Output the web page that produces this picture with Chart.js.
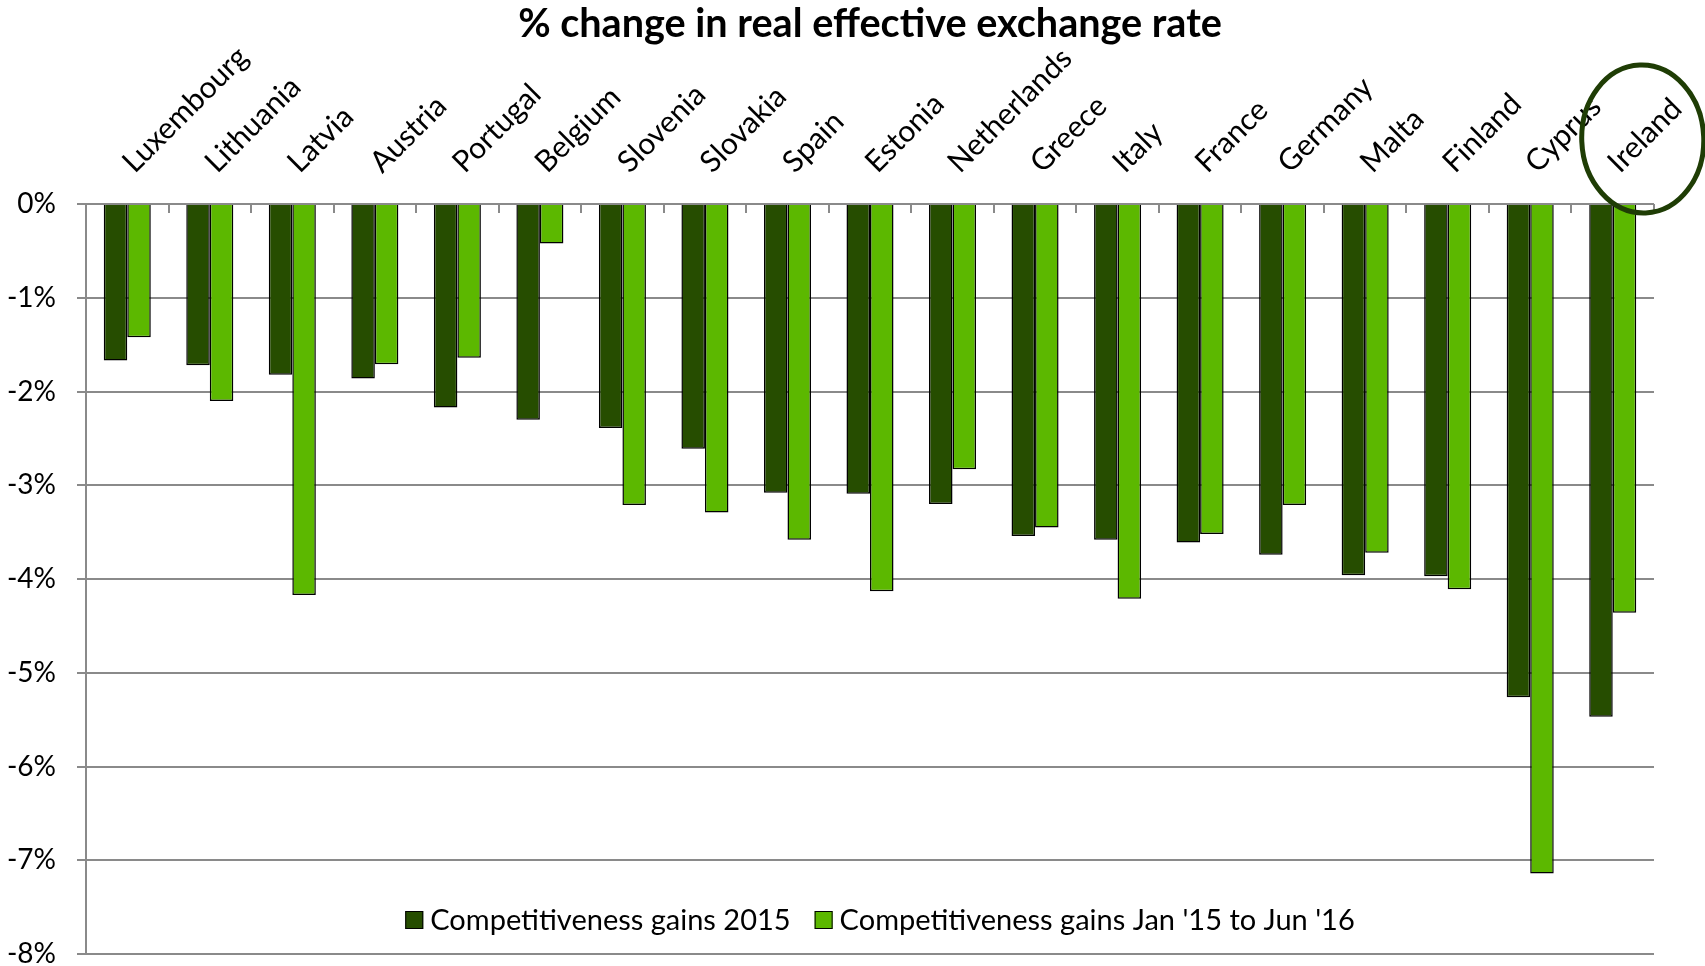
<!DOCTYPE html>
<html lang="en">
<head>
    <meta charset="UTF-8">
    <title>% change in real effective exchange rate</title>
    <style>
        html, body { margin: 0; padding: 0; background: #fff; }
        #wrap { width: 1705px; height: 966px; }
    </style>
</head>
<body>
    <div id="wrap"><canvas id="reer" width="1705" height="966"></canvas></div>
    <script src="https://cdn.jsdelivr.net/npm/chart.js"></script>
    <script>
        // countries, ordered as in the figure
        const countries = ["Luxembourg", "Lithuania", "Latvia", "Austria", "Portugal", "Belgium", "Slovenia",
            "Slovakia", "Spain", "Estonia", "Netherlands", "Greece", "Italy", "France", "Germany", "Malta",
            "Finland", "Cyprus", "Ireland"];
        // % change
        const gains2015 = [-1.67, -1.72, -1.82, -1.86, -2.17, -2.30, -2.39, -2.61, -3.08, -3.09, -3.20,
            -3.54, -3.58, -3.61, -3.74, -3.96, -3.97, -5.26, -5.47];
        const gainsJan15Jun16 = [-1.42, -2.10, -4.17, -1.71, -1.64, -0.42, -3.21, -3.29, -3.58, -4.13, -2.83,
            -3.45, -4.21, -3.52, -3.21, -3.72, -4.11, -7.14, -4.36];
        const seriesNames = ["Competitiveness gains 2015", "Competitiveness gains Jan '15 to Jun '16"];
        const yMin = -8;
        const yMax = 0;
        const highlighted = "Ireland";

        const FONT = "Lato";
        const GRID = "#8a8a8a";

        // little ticks pointing down from the 0% line, between the categories
        const boundaryTicks = {
            id: "boundaryTicks",
            afterDatasetsDraw(chart) {
                const xs = chart.scales.x, ys = chart.scales.y, ctx = chart.ctx;
                const y0 = ys.getPixelForValue(0);
                const step = xs.width / countries.length;
                ctx.save();
                ctx.strokeStyle = GRID;
                ctx.lineWidth = 2;
                for (let i = 1; i <= countries.length; i++) {
                    const x = Math.round(xs.left + i * step);
                    ctx.beginPath();
                    ctx.moveTo(x, y0);
                    ctx.lineTo(x, y0 + 9);
                    ctx.stroke();
                }
                ctx.restore();
            }
        };

        // legend sits inside the plot, near the bottom
        const innerLegend = {
            id: "innerLegend",
            afterDraw(chart) {
                const ctx = chart.ctx, ca = chart.chartArea;
                const box = 18, gap = 7, itemGap = 24;
                ctx.save();
                ctx.font = "29px " + FONT;
                const items = chart.data.datasets.map(ds => ({
                    label: ds.label, color: ds.backgroundColor, w: ctx.measureText(ds.label).width
                }));
                const total = items.reduce((s, it) => s + box + gap + it.w, 0) + itemGap * (items.length - 1);
                let x = (ca.left + ca.right) / 2 - total / 2 + 10;
                const yc = ca.bottom - 34;
                ctx.textBaseline = "middle";
                ctx.textAlign = "left";
                items.forEach(it => {
                    ctx.fillStyle = it.color;
                    ctx.fillRect(x, yc - box / 2, box, box);
                    ctx.strokeStyle = "#000";
                    ctx.lineWidth = 1;
                    ctx.strokeRect(x + 0.5, yc - box / 2 + 0.5, box - 1, box - 1);
                    ctx.fillStyle = "#000";
                    ctx.fillText(it.label, x + box + gap, yc + 1);
                    x += box + gap + it.w + itemGap;
                });
                ctx.restore();
            }
        };

        // the hand drawn ring round Ireland's label
        const ring = {
            id: "ring",
            afterDraw(chart) {
                const xs = chart.scales.x, ys = chart.scales.y, ctx = chart.ctx;
                const idx = countries.indexOf(highlighted);
                const cx = xs.getPixelForValue(idx) + 30;
                const cy = ys.getPixelForValue(0) - 65;
                ctx.save();
                ctx.strokeStyle = "#1f3d05";
                ctx.lineWidth = 5;
                ctx.beginPath();
                ctx.ellipse(cx, cy, 61, 74, -0.04, 0, Math.PI * 2);
                ctx.stroke();
                ctx.restore();
            }
        };

        new Chart(document.getElementById("reer").getContext("2d"), {
            type: "bar",
            data: {
                labels: countries,
                datasets: [{
                    label: seriesNames[0],
                    data: gains2015,
                    backgroundColor: "#264d00",
                    borderColor: "#000",
                    borderWidth: 1.5
                }, {
                    label: seriesNames[1],
                    data: gainsJan15Jun16,
                    backgroundColor: "#5cb800",
                    borderColor: "#000",
                    borderWidth: 1.5
                }]
            },
            options: {
                responsive: false,
                animation: false,
                devicePixelRatio: 1,
                categoryPercentage: 0.57,
                barPercentage: 1,
                layout: { padding: { left: 8, right: 51, top: 0, bottom: 12 } },
                plugins: {
                    legend: { display: false },
                    tooltip: { enabled: false },
                    title: {
                        display: true,
                        text: "% change in real effective exchange rate",
                        fullSize: false,
                        color: "#000",
                        font: { family: FONT, size: 39.6, weight: "bold", lineHeight: 1.2 },
                        padding: { top: 0, bottom: 0 }
                    }
                },
                scales: {
                    x: {
                        position: "top",
                        grid: { display: false, drawTicks: false },
                        border: { display: false },
                        ticks: {
                            autoSkip: false,
                            minRotation: 45,
                            maxRotation: 45,
                            padding: 24,
                            labelOffset: 26,
                            color: "#000",
                            font: { family: FONT, size: 30 }
                        },
                        afterFit(scale) {
                            scale.height = 156.5;
                            scale.paddingLeft = 0;
                            scale.paddingRight = 0;
                        }
                    },
                    y: {
                        min: yMin,
                        max: yMax,
                        grid: { color: GRID, lineWidth: 2, tickLength: 9, tickColor: GRID },
                        border: { display: true, color: GRID, width: 2 },
                        ticks: {
                            stepSize: 1,
                            padding: 21,
                            color: "#000",
                            font: { family: FONT, size: 28 },
                            callback: v => v + "%"
                        },
                        afterFit(scale) {
                            scale.width = 78;
                            scale.paddingTop = 0;
                            scale.paddingBottom = 0;
                        }
                    }
                }
            },
            plugins: [boundaryTicks, innerLegend, ring]
        });
    </script>
</body>
</html>
